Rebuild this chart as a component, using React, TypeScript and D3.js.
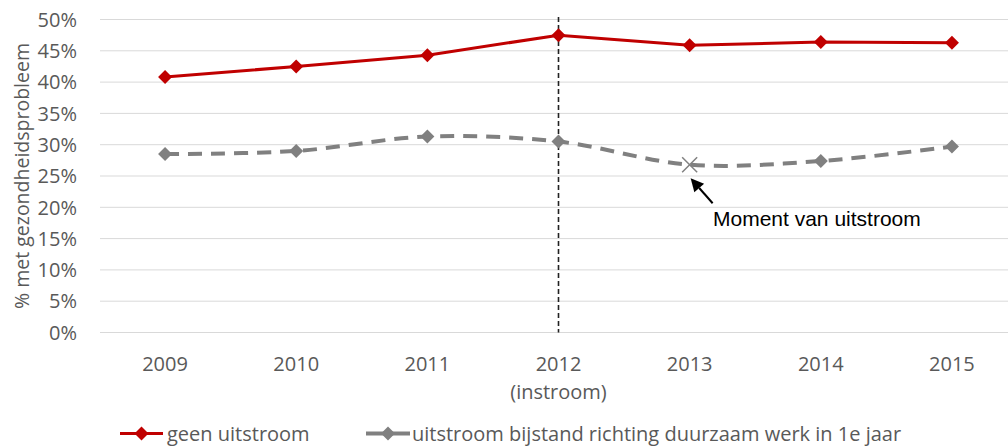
import React from "react";
import * as d3 from "d3";

const years = ["2009", "2010", "2011", "2012", "2013", "2014", "2015"];
const geenUitstroom = [0.408, 0.425, 0.443, 0.475, 0.459, 0.464, 0.463];
const uitstroomWerk = [0.285, 0.29, 0.313, 0.305, 0.268, 0.274, 0.297];
const yTicks = [0, 0.05, 0.1, 0.15, 0.2, 0.25, 0.3, 0.35, 0.4, 0.45, 0.5];
const instroomYear = "2012";
const uitstroomYear = "2013";
const legendLabels = ["geen uitstroom", "uitstroom bijstand richting duurzaam werk in 1e jaar"];
const yTitle = "% met gezondheidsprobleem";
const annotation = "Moment van uitstroom";

const W = 1008;
const H = 446;
const RED = "#C00000";
const GRAY = "#808080";
const TXT = "#595959";
const FONT = "'Open Sans', sans-serif";
const FS = 20;

export default function App() {
  const x = d3.scaleBand<string>().domain(years).range([99.5, 1017.5]);
  const cx = (d: string) => (x(d) as number) + x.bandwidth() / 2;
  const y = d3.scaleLinear().domain([0, 0.5]).range([332.5, 19.5]);

  const redLine = d3
    .line<number>()
    .x((_, i) => cx(years[i]))
    .y((d) => y(d));
  const grayLine = d3
    .line<number>()
    .x((_, i) => cx(years[i]))
    .y((d) => y(d))
    .curve(d3.curveCatmullRom.alpha(0.5));

  const diamond = (px: number, py: number, r: number) =>
    `M${px},${py - r}L${px + r},${py}L${px},${py + r}L${px - r},${py}Z`;

  const iU = years.indexOf(uitstroomYear);
  const ux = cx(uitstroomYear);
  const uy = y(uitstroomWerk[iU]);

  // arrow geometry
  const ax1 = ux + 23, ay1 = uy + 38.5;
  const ax2 = ux + 1, ay2 = uy + 13.5;
  const ang = Math.atan2(ay2 - ay1, ax2 - ax1);
  const hl = 13, hw = 6.5;
  const bx = ax2 - hl * Math.cos(ang), by = ay2 - hl * Math.sin(ang);
  const head = `M${ax2},${ay2}L${bx + hw * Math.sin(ang)},${by - hw * Math.cos(ang)}L${bx - hw * Math.sin(ang)},${by + hw * Math.cos(ang)}Z`;

  return (
    <svg width={W} height={H} style={{ position: "absolute", left: 0, top: 0, background: "#fff" }}>
      {yTicks.map((t) => (
        <g key={t}>
          <line x1={100} x2={W} y1={y(t)} y2={y(t)} stroke="#d9d9d9" strokeWidth={1} />
          <text x={77} y={y(t)} dy="0.36em" textAnchor="end" fontFamily={FONT} fontSize={FS} fill={TXT}>
            {d3.format(".0%")(t)}
          </text>
        </g>
      ))}
      <text
        transform={`translate(22,${y(0.25)}) rotate(-90)`}
        textAnchor="middle"
        dy="0.35em"
        fontFamily={FONT}
        fontSize={19.5}
        fill={TXT}
      >
        {yTitle}
      </text>
      {years.map((yr) => (
        <g key={yr}>
          <text x={cx(yr)} y={370.5} textAnchor="middle" fontFamily={FONT} fontSize={FS} fill={TXT}>
            {yr}
          </text>
          {yr === instroomYear && (
            <text x={cx(yr)} y={398.5} textAnchor="middle" fontFamily={FONT} fontSize={FS} fill={TXT}>
              (instroom)
            </text>
          )}
        </g>
      ))}
      <line
        x1={cx(instroomYear)}
        x2={cx(instroomYear)}
        y1={17}
        y2={y(0)}
        stroke="#222"
        strokeWidth={1.6}
        strokeDasharray="5,3"
      />
      <path d={grayLine(uitstroomWerk) || ""} fill="none" stroke={GRAY} strokeWidth={4} strokeDasharray="14,9" />
      <path d={redLine(geenUitstroom) || ""} fill="none" stroke={RED} strokeWidth={3} />
      {geenUitstroom.map((v, i) => (
        <path key={"r" + i} d={diamond(cx(years[i]), y(v), 7)} fill={RED} />
      ))}
      {uitstroomWerk.map((v, i) =>
        years[i] === uitstroomYear ? (
          <g key={"g" + i} stroke={GRAY} strokeWidth={1.5}>
            <line x1={cx(years[i]) - 7.5} x2={cx(years[i]) + 7.5} y1={y(v) - 7.5} y2={y(v) + 7.5} />
            <line x1={cx(years[i]) - 7.5} x2={cx(years[i]) + 7.5} y1={y(v) + 7.5} y2={y(v) - 7.5} />
          </g>
        ) : (
          <path key={"g" + i} d={diamond(cx(years[i]), y(v), 7)} fill={GRAY} />
        )
      )}
      <line x1={ax1} y1={ay1} x2={bx} y2={by} stroke="#000" strokeWidth={2} />
      <path d={head} fill="#000" />
      <text x={713} y={226} fontFamily="'Liberation Sans', Arial, sans-serif" fontSize={21} fill="#000">
        {annotation}
      </text>
      {/* legend */}
      <g>
        <line x1={120} x2={163} y1={433.5} y2={433.5} stroke={RED} strokeWidth={3} />
        <path d={diamond(141.5, 433.5, 7)} fill={RED} />
        <text x={167} y={440.5} fontFamily={FONT} fontSize={FS} fill={TXT}>
          {legendLabels[0]}
        </text>
        <line x1={366} x2={410} y1={433.5} y2={433.5} stroke={GRAY} strokeWidth={4} />
        <path d={diamond(388, 433.5, 7)} fill={GRAY} />
        <text x={412} y={440.5} fontFamily={FONT} fontSize={FS} fill={TXT}>
          {legendLabels[1]}
        </text>
      </g>
    </svg>
  );
}
